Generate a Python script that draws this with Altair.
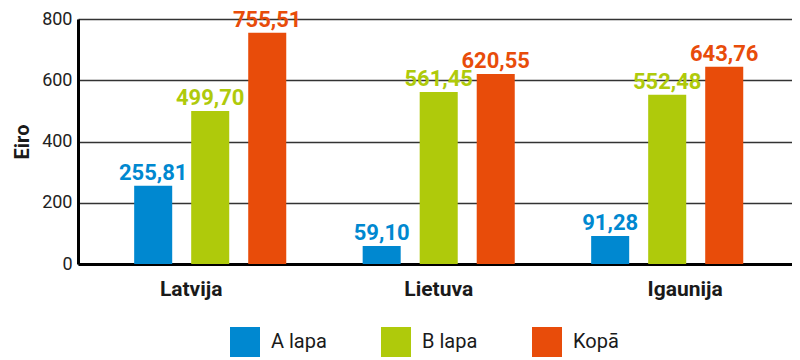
import altair as alt
import pandas as pd

countries = ["Latvija", "Lietuva", "Igaunija"]
series = ["A lapa", "B lapa", "Kopā"]
a_lapa = [255.81, 59.10, 91.28]
b_lapa = [499.70, 561.45, 552.48]
kopa = [755.51, 620.55, 643.76]
colors = ["#0088d0", "#afca0b", "#e84c0a"]
y_ticks = [0, 200, 400, 600, 800]

rows = []
for s, vals in zip(series, [a_lapa, b_lapa, kopa]):
    for c, v in zip(countries, vals):
        rows.append({"valsts": c, "serija": s, "eiro": v,
                     "teksts": f"{v:.2f}".replace(".", ",")})
df = pd.DataFrame(rows)

FONT = "Roboto"

x = alt.X(
    "valsts:N", sort=countries,
    scale=alt.Scale(paddingInner=0, paddingOuter=0.0624, align=0.63),
    axis=alt.Axis(
        title=None, labelAngle=0, labelFontSize=21, labelFontWeight="bold",
        labelColor="#1a1a1a", labelFont=FONT, labelPadding=14, ticks=False,
        domain=True, domainColor="#000000", domainWidth=3,
        labelOffset=alt.ExprRef(
            "datum.value == 'Latvija' ? -19 : (datum.value == 'Igaunija' ? 18 : 0)"
        ),
    ),
)
xo = alt.XOffset("serija:N", sort=series,
                 scale=alt.Scale(paddingInner=0.333, paddingOuter=0.67))
y = alt.Y(
    "eiro:Q", scale=alt.Scale(domain=[0, 800], nice=False),
    axis=alt.Axis(
        values=y_ticks, title="Eiro", titleFontSize=20, titleFontWeight="bold",
        titleFont=FONT, titleColor="#1a1a1a", titlePadding=9,
        labelFontSize=18, labelFont=FONT, labelColor="#222222", labelPadding=6,
        ticks=False, grid=True, gridColor="#333333", gridWidth=1.5,
        domain=True, domainColor="#000000", domainWidth=3,
    ),
)
color_scale = alt.Scale(domain=series, range=colors)

bars = alt.Chart(df).mark_bar().encode(
    x=x, xOffset=xo, y=y,
    color=alt.Color(
        "serija:N", scale=color_scale,
        legend=alt.Legend(
            title=None, orient="none", legendX=152, legendY=308,
            direction="horizontal", symbolType="square", symbolSize=900,
            symbolStrokeWidth=0, labelFontSize=20, labelFont=FONT,
            labelColor="#1a1a1a", columnPadding=54, labelOffset=11, padding=0,
        ),
    ),
)

labels = alt.Chart(df).mark_text(
    fontSize=22, fontWeight="bold", font=FONT, baseline="alphabetic", dy=-6
).encode(
    x=x, xOffset=xo, y=y, text="teksts:N",
    color=alt.Color("serija:N", scale=color_scale, legend=None),
)

chart = alt.layer(bars, labels).properties(
    width=714, height=245,
    autosize=alt.AutoSizeParams(type="none"),
    padding={"left": 70, "top": 11, "right": 0, "bottom": 96},
).configure_view(stroke=None)

chart.save("out.html", embed_options={"renderer": "svg", "actions": False})
